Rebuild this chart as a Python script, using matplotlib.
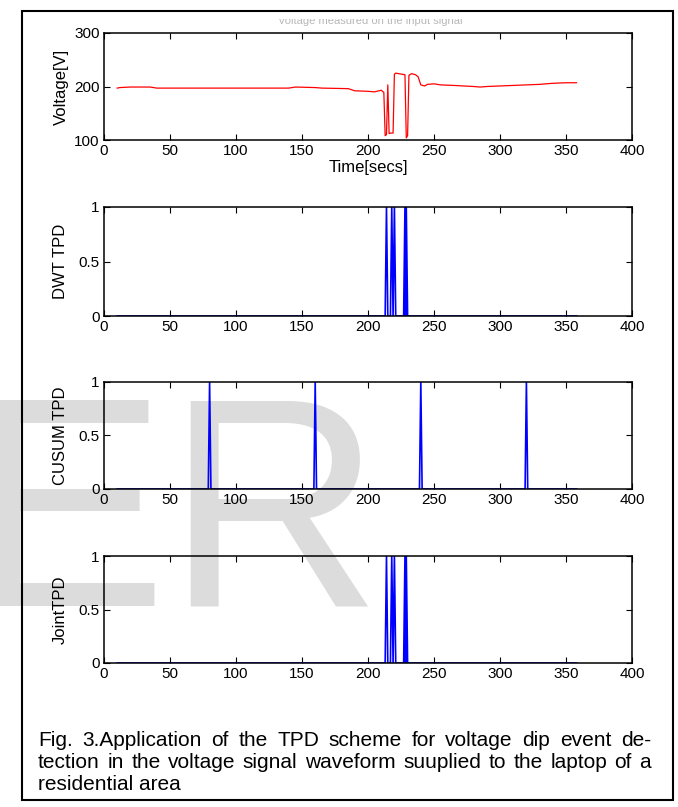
import matplotlib
matplotlib.use("Agg")
import matplotlib.pyplot as plt
from matplotlib.patches import Rectangle
from matplotlib.transforms import Bbox

plt.rcParams['font.family'] = ['Liberation Sans', 'DejaVu Sans']

W, H = 678, 807

# --- data ---
time_v = [10, 12, 20, 35, 40, 140, 145, 160, 165, 185, 190, 200, 205, 210, 212,
          213, 214, 215, 216, 217, 219, 220, 221, 228, 229, 230, 231, 233, 236,
          238, 240, 243, 245, 250, 255, 265, 280, 285, 290, 300, 320, 330, 340,
          350, 358]
voltage = [197, 198, 199, 199, 197, 197, 199, 198, 197, 196, 192, 191, 190, 193,
           189, 108, 110, 203, 112, 113, 113, 223, 225, 222, 104, 108, 221, 224,
           222, 218, 203, 201, 204, 205, 203, 202, 200, 199, 200, 201, 203, 204,
           206, 207, 207]

t_start, t_end = 10, 358
dwt_events = [214, 218, 220, 228, 229]
cusum_events = [80, 160, 240, 320]
joint_events = [214, 218, 220, 228, 229]

xticks = [0, 50, 100, 150, 200, 250, 300, 350, 400]
caption = ["Fig. 3.Application of the TPD scheme for voltage dip event de-",
           "tection in the voltage signal waveform suuplied to the laptop of a",
           "residential area"]


def pulse_line(events):
    # zero baseline with one-sample pulses at the event times
    xs, ys = [t_start], [0]
    for e in events:
        xs += [e - 1, e, e + 1]
        ys += [0, 1, 0]
    xs.append(t_end)
    ys.append(0)
    return xs, ys


fig = plt.figure(figsize=(W / 100, H / 100), dpi=100)

# watermark
fig.text(-32 / W, 1 - 605 / H, "ER", fontsize=215, color="#dcdcdc",
         ha="left", va="baseline", zorder=-5)

# outer frame
fig.patches.append(Rectangle((22 / W, 1 - 800 / H), (673 - 22) / W, (800 - 11) / H,
                             transform=fig.transFigure, fill=False,
                             edgecolor="black", linewidth=1.5, zorder=5))


def pix_axes(top, bottom):
    return fig.add_axes([104 / W, 1 - bottom / H, (632 - 104) / W, (bottom - top) / H])


def style(ax):
    ax.set_facecolor("none")
    for s in ax.spines.values():
        s.set_linewidth(1.1)
    ax.tick_params(direction="in", top=True, right=True, length=4, width=0.8,
                   labelsize=11, pad=3)
    ax.set_xlim(0, 400)
    ax.set_xticks(xticks)


ax1 = pix_axes(33, 140)
ax1.plot(time_v, voltage, color="red", linewidth=0.9)
style(ax1)
ax1.set_ylim(100, 300)
ax1.set_yticks([100, 200, 300])
ax1.set_ylabel("Voltage[V]", fontsize=12, labelpad=4)
ax1.set_xlabel("Time[secs]", fontsize=12, labelpad=1)

# title is mostly cut off in the reference
title = fig.text(370 / W, 1 - 24 / H, "Voltage measured on the input signal",
                 fontsize=8, color="#b8b8b8", ha="center", va="baseline")
title.set_clip_box(Bbox.from_extents(0, 0, W, H - 19))
title.set_clip_on(True)

panels = [(207, 316, dwt_events, "DWT TPD"),
          (382, 489, cusum_events, "CUSUM TPD"),
          (556, 663, joint_events, "JointTPD")]
for top, bottom, events, label in panels:
    ax = pix_axes(top, bottom)
    xs, ys = pulse_line(events)
    ax.plot(xs, ys, color="blue", linewidth=1.2)
    style(ax)
    ax.set_ylim(0, 1)
    ax.set_yticks([0, 0.5, 1])
    ax.set_yticklabels(["0", "0.5", "1"])
    ax.set_ylabel(label, fontsize=12, labelpad=8)

# caption, first two lines justified between x=38 and x=651
renderer = fig.canvas.get_renderer()
x0, x1 = 38, 651
for i, line in enumerate(caption):
    y = 1 - (746 + 22 * i) / H
    if i == len(caption) - 1:
        fig.text(x0 / W, y, line, fontsize=15, ha="left", va="baseline")
        continue
    words = [fig.text(0, y, w, fontsize=15, ha="left", va="baseline")
             for w in line.split()]
    widths = [t.get_window_extent(renderer).width for t in words]
    gap = (x1 - x0 - sum(widths)) / (len(words) - 1)
    x = x0
    for t, w in zip(words, widths):
        t.set_x(x / W)
        x += w + gap

fig.savefig("out.png", dpi=100)
